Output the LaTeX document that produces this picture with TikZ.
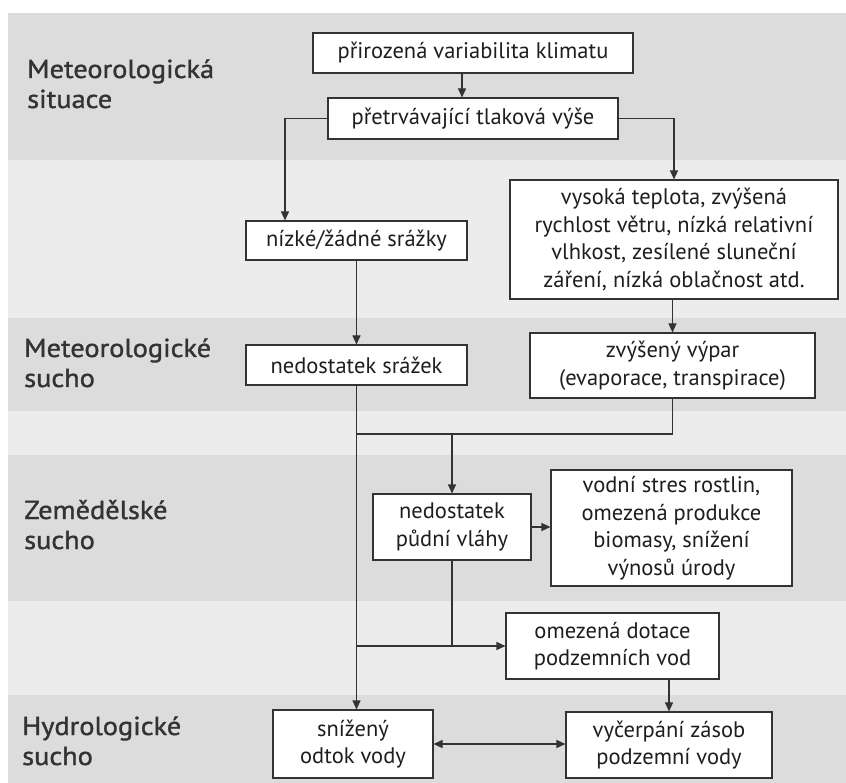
\documentclass[tikz,border=0pt]{standalone}
\usepackage{fontspec}
\setmainfont{PT Sans}
\newfontfamily\labfont[FakeBold=1.3,FakeStretch=1.09]{PT Sans}
\usetikzlibrary{arrows.meta}
\definecolor{bandD}{HTML}{DCDCDC}
\definecolor{bandL}{HTML}{ECECEC}
\definecolor{lineC}{HTML}{333333}
\definecolor{labC}{HTML}{333333}
\definecolor{txtC}{HTML}{1E1E1E}
\begin{document}
\begin{tikzpicture}[x=1pt,y=-1pt,
  box/.style={draw=lineC, line width=1.1pt, fill=white, inner sep=0pt, align=center,
    font=\fontsize{22.5}{27.5}\selectfont, text=txtC},
  conn/.style={draw=lineC, line width=1.1pt},
  arr/.style={conn, -{Triangle[length=9pt,width=8pt]}},
  darr/.style={conn, {Triangle[length=9pt,width=8pt]}-{Triangle[length=9pt,width=8pt]}},
  lab/.style={anchor=base west, inner sep=0pt, align=left,
    font=\labfont\fontsize{26}{30}\selectfont, text=labC}]
\useasboundingbox (0,0) rectangle (846,783);
\fill[white] (0,0) rectangle (846,783);
% bands
\fill[bandD] (8,13) rectangle (846,160);
\fill[bandL] (8,160) rectangle (846,318);
\fill[bandD] (8,318) rectangle (846,411);
\fill[bandL] (8,411) rectangle (846,455);
\fill[bandD] (8,455) rectangle (846,601);
\fill[bandL] (8,601) rectangle (846,695);
\fill[bandD] (8,695) rectangle (846,783);
% labels (base anchor = last line)
\node[lab] (l1) at (27,108) {Meteorologická\\situace};
\node[lab] (l2) at (24,387) {Meteorologické\\sucho};
\node[lab] (l3) at (24,549) {Zemědělské\\sucho};
\node[lab] (l4) at (22,765) {Hydrologické\\sucho};
% boxes
\node[box, minimum width=320, minimum height=40] (b1) at (473,53) {přirozená variabilita klimatu};
\node[box, minimum width=290, minimum height=41] (b2) at (473,118.5) {přetrvávající tlaková výše};
\node[box, minimum width=221, minimum height=39] (nizke) at (356.5,240.5) {nízké/žádné srážky};
\node[box, minimum width=328, minimum height=119] (vysoka) at (674,239.5) {vysoká teplota, zvýšená\\rychlost větru, nízká relativní\\vlhkost, zesílené sluneční\\záření, nízká oblačnost atd.};
\node[box, minimum width=221, minimum height=40] (nedsraz) at (356.5,365) {nedostatek srážek};
\node[box, minimum width=285, minimum height=65] (vypar) at (672.5,365.5) {zvýšený výpar\\(evaporace, transpirace)};
\node[box, minimum width=158, minimum height=66] (pudni) at (452,527) {nedostatek\\půdní vláhy};
\node[box, minimum width=241, minimum height=116] (vodni) at (671.5,528) {vodní stres rostlin,\\omezená produkce\\biomasy, snížení\\výnosů úrody};
\node[box, minimum width=213, minimum height=66] (omezena) at (612.5,646) {omezená dotace\\podzemních vod};
\node[box, minimum width=160, minimum height=68] (snizeny) at (353,744) {snížený\\odtok vody};
\node[box, minimum width=206, minimum height=66] (vycerpani) at (669,745) {vyčerpání zásob\\podzemní vody};
% helper coordinates
\coordinate (L1) at (285,0);
\coordinate (J1) at (452,434);
% connectors
\draw[arr] ([xshift=-11pt]b1.south) -- ([xshift=-11pt]b2.north);
\draw[arr] (b2.west) -| (L1 |- nizke.north);
\draw[arr] (b2.east) -| (vysoka.north);
\draw[arr] (nizke.south) -- (nedsraz.north);
\draw[arr] (vysoka.south -| vypar.north) -- (vypar.north);
\draw[arr] (nedsraz.south) -- (nedsraz.south |- snizeny.north);
\draw[conn] (vypar.south) |- (nedsraz.south |- J1);
\draw[arr] (pudni.north |- J1) -- (pudni.north);
\draw[arr] (pudni.east) -- (pudni.east -| vodni.west);
\draw[conn] (pudni.south) -- (pudni.south |- omezena.west);
\draw[arr] (nedsraz.south |- omezena.west) -- (omezena.west);
\draw[arr] (vycerpani.north |- omezena.south) -- (vycerpani.north);
\draw[darr] (snizeny.east) -- (snizeny.east -| vycerpani.west);
\end{tikzpicture}
\end{document}
